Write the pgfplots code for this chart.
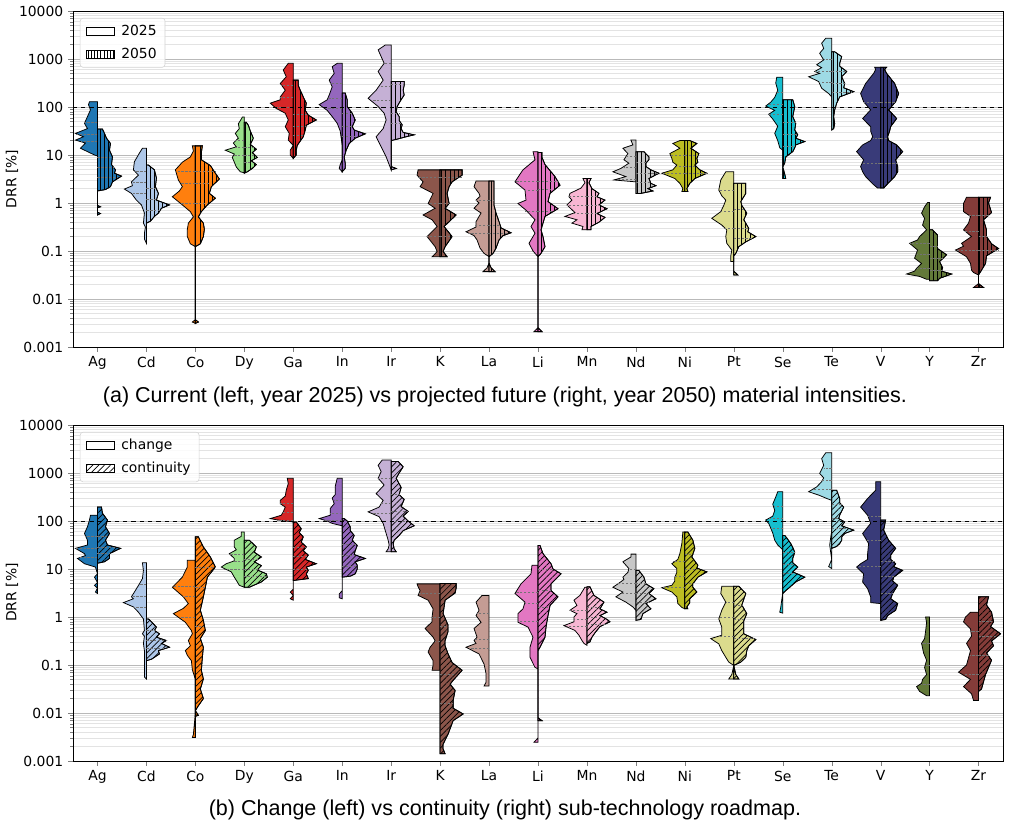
\documentclass[border=0pt]{standalone}
\usepackage{fontspec}
\setmainfont{DejaVu Sans}
\newfontfamily\capfont{Liberation Sans}
\usepackage{pgfplots}
\pgfplotsset{compat=1.18}
\usetikzlibrary{patterns.meta}
\definecolor{cAg}{HTML}{1F77B4}\definecolor{cCd}{HTML}{AEC7E8}\definecolor{cCo}{HTML}{FF7F0E}
\definecolor{cDy}{HTML}{98DF8A}\definecolor{cGa}{HTML}{D62728}\definecolor{cIn}{HTML}{9467BD}
\definecolor{cIr}{HTML}{C5B0D5}\definecolor{cK}{HTML}{8C564B}\definecolor{cLa}{HTML}{C49C94}
\definecolor{cLi}{HTML}{E377C2}\definecolor{cMn}{HTML}{F7B6D2}\definecolor{cNd}{HTML}{C7C7C7}
\definecolor{cNi}{HTML}{BCBD22}\definecolor{cPt}{HTML}{DBDB8D}\definecolor{cSe}{HTML}{17BECF}
\definecolor{cTe}{HTML}{9EDAE5}\definecolor{cV}{HTML}{393B79}\definecolor{cY}{HTML}{637939}
\definecolor{cZr}{HTML}{843C39}
\tikzset{hatchV/.style={postaction={pattern={Lines[angle=90,distance=3pt,line width=0.5pt]}}},
         hatchD/.style={postaction={pattern={Lines[angle=45,distance=3pt,line width=0.5pt]}}},
         qstyle/.style={draw=black!55, line width=0.5pt, dash pattern=on 1.6pt off 1.2pt}}
% #1 category position, #2 side (-1 left / 1 right), #3 colour, #4 style, #5 rows "log10(DRR) halfwidth[px]"
\newcommand{\hv}[5]{\addplot[draw=black, line width=0.55pt, fill=#3, forget plot, #4]
  table[row sep=\\, x expr={#1+#2*\thisrow{w}/48.9}, y expr={10^(\thisrow{l})}] {l w\\ #5\\} -- cycle;}
% quartile lines: position, side, then three (log10 level, halfwidth px) pairs
\newcommand{\ql}[8]{\addplot[qstyle, forget plot, unbounded coords=jump]
  table[row sep=\\, x expr={#1+#2*\thisrow{w}/48.9}, y expr={10^(\thisrow{l})}]
  {l w\\ #3 0\\ #3 #4\\ nan nan\\ #5 0\\ #5 #6\\ nan nan\\ #7 0\\ #7 #8\\};}
\pgfplotsset{every axis/.append style={
  scale only axis, width=669.6pt, height=241.9pt,
  xmin=-0.5, xmax=18.5, ymin=0.001, ymax=10000,
  xtick={0,...,18}, xticklabels={Ag,Cd,Co,Dy,Ga,In,Ir,K,La,Li,Mn,Nd,Ni,Pt,Se,Te,V,Y,Zr},
  ytick={0.001,0.01,0.1,1,10,100,1000,10000},
  yticklabels={0.001,0.01,0.1,1,10,100,1000,10000},
  minor ytick={0.002,0.003,0.004,0.005,0.006,0.007,0.008,0.009,
    0.02,0.03,0.04,0.05,0.06,0.07,0.08,0.09,0.2,0.3,0.4,0.5,0.6,0.7,0.8,0.9,
    2,3,4,5,6,7,8,9,20,30,40,50,60,70,80,90,200,300,400,500,600,700,800,900,
    2000,3000,4000,5000,6000,7000,8000,9000},
  ymajorgrids, yminorgrids,
  major grid style={gray!55, line width=0.6pt},
  minor grid style={gray!22, line width=0.6pt},
  tick align=outside, xtick pos=bottom, ytick pos=left,
  major tick length=3.5pt, minor tick length=2pt,
  axis line style={line width=0.6pt},
  tick label style={font=\fontsize{10}{12}\selectfont},
  legend style={at={(0,1)}, xshift=5pt, yshift=-5pt, anchor=north west,
    draw=gray!35, rounded corners=2pt, fill=white, fill opacity=0.85, text opacity=1,
    font=\fontsize{10}{12}\selectfont, row sep=3.5pt, inner xsep=4pt, inner ysep=3pt,
    /tikz/every odd column/.append style={column sep=3pt}},
  legend cell align=left,
}}
\begin{document}
\begin{tikzpicture}
\path[use as bounding box] (-52.56pt,7.92pt) rectangle (674.64pt,-588.96pt);
%================ TOP PANEL =================
\begin{axis}[ymode=log, at={(0,0)}, anchor=north west]
\addlegendimage{legend image code/.code={\draw[black, line width=0.6pt, fill=white, sharp corners] (0pt,-2.9pt) rectangle (20pt,2.9pt);}}
\addlegendentry{2025}
\addlegendimage{legend image code/.code={\draw[black, line width=0.6pt, sharp corners, pattern={Lines[angle=90,distance=2.2pt,line width=0.5pt]}] (0pt,-2.9pt) rectangle (20pt,2.9pt);}}
\addlegendentry{2050}
% Ag
\hv{0}{-1}{cAg}{}{0.98 0\\1.0 3\\1.14 17\\1.25 12\\1.31 22\\1.38 14\\1.45 22\\1.55 10\\1.66 13\\1.80 10\\1.94 7\\2.05 9\\2.11 8\\2.11 0}
\hv{0}{1}{cAg}{hatchV}{-0.25 0\\-0.22 3\\-0.19 0\\-0.1 0\\-0.08 3\\-0.05 0\\0.25 0\\0.28 8\\0.34 13\\0.44 15\\0.56 24\\0.62 17\\0.69 18\\0.80 14\\0.96 15\\1.1 12\\1.24 13\\1.35 9\\1.45 7\\1.54 5\\1.54 0}
% Cd
\hv{1}{-1}{cCd}{}{-0.84 0\\-0.75 2\\-0.63 2\\-0.5 1\\-0.42 3\\-0.21 2\\-0.04 5\\0.06 10\\0.2 15\\0.29 22\\0.36 14\\0.44 15\\0.58 8\\0.69 13\\0.86 12\\1.04 7\\1.14 4\\1.14 0}
\hv{1}{1}{cCd}{hatchV}{-0.42 0\\-0.38 4\\-0.28 8\\-0.21 12\\-0.11 15\\-0.04 23\\0.06 10\\0.2 12\\0.34 9\\0.52 10\\0.69 8\\0.79 2\\0.79 0}
% Co
\hv{2}{-1}{cCo}{}{-2.51 0\\-2.48 3\\-2.43 0\\-0.91 0\\-0.85 5\\-0.7 8\\-0.55 8\\-0.42 7\\-0.29 2\\-0.18 5\\-0.04 13\\0.13 23\\0.25 16\\0.34 13\\0.48 17\\0.69 20\\0.85 13\\0.96 5\\1.08 2\\1.19 3\\1.19 0}
\hv{2}{1}{cCo}{hatchV}{-2.51 0\\-2.48 3\\-2.43 0\\-0.91 0\\-0.85 5\\-0.7 8\\-0.55 9\\-0.42 8\\-0.29 3\\-0.18 6\\-0.04 12\\0.10 20\\0.2 14\\0.34 16\\0.5 24\\0.62 20\\0.78 15\\0.9 6\\1.05 6\\1.19 7\\1.19 0}
% Dy
\hv{3}{-1}{cDy}{}{0.63 0\\0.65 4\\0.75 8\\0.85 10\\0.95 12\\1.02 10\\1.1 19\\1.17 8\\1.25 11\\1.35 6\\1.45 9\\1.55 5\\1.65 6\\1.75 3\\1.79 2\\1.79 0}
\hv{3}{1}{cDy}{hatchV}{0.62 0\\0.65 3\\0.72 8\\0.80 12\\0.88 7\\0.95 13\\1.05 8\\1.12 12\\1.22 6\\1.35 9\\1.5 6\\1.62 4\\1.68 2\\1.68 0}
% Ga
\hv{4}{-1}{cGa}{}{0.93 0\\1.0 3\\1.1 3\\1.2 0\\1.31 5\\1.45 4\\1.59 8\\1.73 5\\1.87 8\\1.97 17\\2.08 23\\2.15 13\\2.21 13\\2.35 8\\2.49 13\\2.63 7\\2.77 10\\2.91 5\\2.91 0}
\hv{4}{1}{cGa}{hatchV}{0.93 0\\1.0 3\\1.1 3\\1.2 4\\1.38 10\\1.52 12\\1.62 13\\1.73 23\\1.83 15\\1.93 12\\2.08 13\\2.21 10\\2.35 7\\2.45 5\\2.56 5\\2.56 0}
% In
\hv{5}{-1}{cIn}{}{0.65 0\\0.72 3\\0.8 2\\0.9 0\\1.2 0\\1.5 2\\1.66 5\\1.8 10\\1.93 15\\2.05 23\\2.15 15\\2.25 13\\2.42 10\\2.56 13\\2.7 8\\2.84 10\\2.91 5\\2.91 0}
\hv{5}{1}{cIn}{hatchV}{0.65 0\\0.72 3\\0.83 3\\0.96 2\\1.1 4\\1.24 7\\1.35 13\\1.44 23\\1.52 12\\1.59 10\\1.73 13\\1.87 10\\2.01 5\\2.15 5\\2.29 3\\2.29 0}
% Ir
\hv{6}{-1}{cIr}{}{0.69 0\\0.8 2\\0.96 5\\1.17 10\\1.38 15\\1.55 8\\1.73 5\\1.87 7\\2.01 13\\2.18 23\\2.35 15\\2.56 8\\2.74 13\\2.91 7\\3.05 10\\3.19 13\\3.29 6\\3.29 0}
\hv{6}{1}{cIr}{hatchV}{0.69 0\\0.72 5\\0.76 0\\1.30 0\\1.33 6\\1.38 15\\1.42 23\\1.47 12\\1.55 10\\1.63 11\\1.72 8\\1.80 8\\1.9 5\\2.01 6\\2.12 9\\2.25 13\\2.35 12\\2.45 13\\2.53 13\\2.53 0}
% K
\hv{7}{-1}{cK}{}{-1.12 0\\-1.12 8\\-1.06 5\\-1.01 3\\-0.91 5\\-0.70 13\\-0.49 3\\-0.35 8\\-0.25 17\\-0.11 5\\-0.01 12\\0.2 7\\0.34 20\\0.44 17\\0.58 23\\0.69 22\\0.69 0}
\hv{7}{1}{cK}{hatchV}{-1.12 0\\-1.12 7\\-1.01 3\\-0.91 5\\-0.70 12\\-0.49 4\\-0.25 16\\-0.11 5\\-0.01 9\\0.2 7\\0.34 9\\0.44 12\\0.58 22\\0.69 22\\0.69 0}
% La
\hv{8}{-1}{cLa}{}{-1.43 0\\-1.43 6\\-1.35 2\\-1.25 0\\-1.12 0\\-1.05 5\\-0.94 9\\-0.77 12\\-0.68 15\\-0.60 23\\-0.50 13\\-0.39 13\\-0.28 10\\-0.21 8\\-0.11 15\\0.0 10\\0.06 13\\0.14 9\\0.20 10\\0.34 15\\0.46 13\\0.46 0}
\hv{8}{1}{cLa}{hatchV}{-1.43 0\\-1.43 6\\-1.35 2\\-1.25 0\\-1.12 0\\-1.05 4\\-0.94 7\\-0.77 10\\-0.68 14\\-0.62 22\\-0.52 12\\-0.39 10\\-0.21 7\\-0.05 5\\0.1 5\\0.3 5\\0.46 5\\0.46 0}
% Li
\hv{9}{-1}{cLi}{}{-2.68 0\\-2.68 4\\-2.6 0\\-1.12 0\\-1.0 5\\-0.84 9\\-0.63 3\\-0.49 7\\-0.35 3\\-0.15 12\\-0.01 20\\0.06 12\\0.27 13\\0.44 23\\0.6 18\\0.69 15\\0.9 3\\1.07 5\\1.07 0}
\hv{9}{1}{cLi}{hatchV}{-2.68 0\\-2.68 4\\-2.6 0\\-1.12 0\\-1.05 3\\-0.91 7\\-0.7 5\\-0.56 3\\-0.28 7\\-0.12 20\\0.03 10\\0.2 12\\0.37 22\\0.55 17\\0.8 7\\0.95 4\\1.05 4\\1.05 0}
% Mn
\hv{10}{-1}{cMn}{}{-0.56 0\\-0.56 5\\-0.49 4\\-0.42 15\\-0.35 10\\-0.28 22\\-0.2 12\\-0.12 16\\-0.04 20\\0.06 15\\0.13 18\\0.2 17\\0.31 6\\0.42 2\\0.51 4\\0.51 0}
\hv{10}{1}{cMn}{hatchV}{-0.56 0\\-0.56 4\\-0.49 4\\-0.40 12\\-0.30 18\\-0.22 10\\-0.12 20\\-0.04 12\\0.06 18\\0.13 10\\0.2 12\\0.3 5\\0.42 2\\0.51 4\\0.51 0}
% Nd
\hv{11}{-1}{cNd}{}{0.44 0\\0.48 22\\0.55 10\\0.65 23\\0.72 15\\0.83 7\\0.9 12\\1.03 8\\1.14 13\\1.21 3\\1.31 5\\1.31 0}
\hv{11}{1}{cNd}{hatchV}{0.20 0\\0.20 5\\0.25 17\\0.30 12\\0.36 20\\0.41 15\\0.51 13\\0.62 23\\0.69 15\\0.76 10\\0.83 10\\0.9 13\\0.96 13\\1.07 8\\1.07 0}
% Ni
\hv{12}{-1}{cNi}{}{0.24 0\\0.24 3\\0.3 2\\0.41 5\\0.51 10\\0.62 23\\0.69 12\\0.79 8\\0.85 12\\0.93 13\\1.03 15\\1.14 5\\1.24 12\\1.30 5\\1.30 0}
\hv{12}{1}{cNi}{hatchV}{0.24 0\\0.24 3\\0.3 2\\0.41 5\\0.51 10\\0.62 22\\0.69 15\\0.79 10\\0.85 13\\0.93 12\\1.03 14\\1.14 6\\1.24 12\\1.30 5\\1.30 0}
% Pt
\hv{13}{-1}{cPt}{}{-1.22 0\\-1.22 3\\-1.1 3\\-0.98 2\\-0.84 7\\-0.70 8\\-0.56 7\\-0.46 12\\-0.32 22\\-0.18 13\\-0.05 10\\0.06 8\\0.15 12\\0.27 15\\0.48 13\\0.65 8\\0.65 0}
\hv{13}{1}{cPt}{hatchV}{-1.50 0\\-1.50 4\\-1.42 0\\-1.1 0\\-1.05 2\\-0.91 5\\-0.81 12\\-0.70 22\\-0.6 14\\-0.53 15\\-0.35 10\\-0.21 13\\-0.05 8\\0.03 7\\0.20 12\\0.41 12\\0.41 0}
% Se
\hv{14}{-1}{cSe}{}{1.1 0\\1.15 3\\1.3 5\\1.45 8\\1.6 5\\1.75 10\\1.85 14\\1.93 8\\2.02 17\\2.1 12\\2.2 8\\2.35 5\\2.5 7\\2.62 6\\2.62 0}
\hv{14}{1}{cSe}{hatchV}{0.51 0\\0.51 3\\0.6 2\\0.75 0\\0.83 2\\0.96 3\\1.07 10\\1.15 12\\1.21 13\\1.28 22\\1.35 13\\1.42 15\\1.52 12\\1.66 13\\1.80 10\\2.01 12\\2.15 10\\2.15 0}
% Te
\hv{15}{-1}{cTe}{}{2.21 0\\2.28 3\\2.39 10\\2.53 13\\2.63 23\\2.7 12\\2.74 17\\2.82 10\\2.88 15\\2.98 8\\3.12 12\\3.22 8\\3.33 10\\3.43 6\\3.43 0}
\hv{15}{1}{cTe}{hatchV}{1.52 0\\1.55 2\\1.65 3\\1.80 2\\1.94 3\\2.08 5\\2.21 8\\2.32 22\\2.4 12\\2.49 13\\2.63 10\\2.74 15\\2.85 8\\2.91 8\\3.05 10\\3.15 3\\3.15 0}
% V
\hv{16}{-1}{cV}{}{0.31 0\\0.31 3\\0.4 8\\0.55 15\\0.65 18\\0.76 20\\0.9 17\\1.07 24\\1.21 18\\1.3 10\\1.38 8\\1.5 10\\1.59 10\\1.76 18\\1.94 10\\2.11 17\\2.28 20\\2.49 15\\2.70 7\\2.78 5\\2.83 6\\2.83 0}
\hv{16}{1}{cV}{hatchV}{0.31 0\\0.31 3\\0.4 7\\0.55 14\\0.65 17\\0.76 17\\0.9 15\\1.07 22\\1.21 16\\1.3 8\\1.38 7\\1.5 9\\1.59 10\\1.76 16\\1.94 8\\2.11 15\\2.28 18\\2.49 14\\2.70 6\\2.78 4\\2.83 6\\2.83 0}
% Y
\hv{17}{-1}{cY}{}{-1.59 0\\-1.59 3\\-1.53 10\\-1.48 23\\-1.42 15\\-1.36 13\\-1.26 8\\-1.15 15\\-0.98 12\\-0.84 20\\-0.77 12\\-0.70 10\\-0.56 3\\-0.46 7\\-0.32 5\\-0.21 8\\-0.08 5\\0.01 2\\0.01 0}
\hv{17}{1}{cY}{hatchV}{-1.62 0\\-1.62 8\\-1.57 10\\-1.48 22\\-1.42 12\\-1.35 13\\-1.22 10\\-1.08 17\\-0.95 8\\-0.80 8\\-0.67 8\\-0.56 3\\-0.56 0}
% Zr
\hv{18}{-1}{cZr}{}{-1.76 0\\-1.76 5\\-1.68 0\\-1.50 0\\-1.45 5\\-1.40 7\\-1.26 8\\-1.12 12\\-0.98 23\\-0.90 15\\-0.84 17\\-0.70 7\\-0.56 15\\-0.42 10\\-0.28 8\\-0.18 15\\-0.01 15\\0.12 12\\0.12 0}
\hv{18}{1}{cZr}{hatchV}{-1.76 0\\-1.76 5\\-1.68 0\\-1.50 0\\-1.40 3\\-1.26 7\\-1.10 8\\-0.95 20\\-0.85 13\\-0.70 8\\-0.56 8\\-0.35 5\\-0.20 13\\0.0 10\\0.12 12\\0.12 0}
% quartile lines (top)
\ql{0}{-1}{1.68}{13}{1.43}{21}{1.28}{16}\ql{0}{1}{0.96}{15}{0.75}{16}{0.53}{20}
\ql{1}{-1}{0.66}{12}{0.44}{15}{0.21}{14}\ql{1}{1}{0.30}{10}{0.07}{10}{-0.15}{14}
\ql{2}{-1}{0.66}{20}{0.40}{14}{0.0}{14}\ql{2}{1}{0.66}{21}{0.40}{15}{0.0}{12}
\ql{3}{-1}{1.30}{9}{1.15}{9}{1.0}{10}\ql{3}{1}{1.15}{11}{1.0}{10}{0.85}{9}
\ql{4}{-1}{2.45}{12}{2.2}{13}{2.0}{17}\ql{4}{1}{1.84}{15}{1.59}{13}{1.40}{10}
\ql{5}{-1}{2.5}{12}{2.18}{15}{1.97}{15}\ql{5}{1}{1.87}{10}{1.59}{10}{1.38}{13}
\ql{6}{-1}{2.91}{7}{2.42}{10}{2.14}{18}\ql{6}{1}{2.48}{13}{1.87}{8}{1.65}{11}
\ql{7}{-1}{0.53}{22}{0.0}{11}{-0.7}{13}\ql{7}{1}{0.53}{22}{0.0}{9}{-0.7}{12}
\ql{8}{-1}{0.06}{13}{-0.46}{14}{-0.64}{20}\ql{8}{1}{0.06}{5}{-0.46}{11}{-0.64}{18}
\ql{9}{-1}{0.46}{23}{0.27}{13}{-0.18}{13}\ql{9}{1}{0.46}{20}{0.28}{13}{-0.18}{16}
\ql{10}{-1}{0.13}{18}{-0.04}{20}{-0.21}{13}\ql{10}{1}{0.13}{10}{-0.04}{12}{-0.21}{11}
\ql{11}{-1}{0.97}{10}{0.75}{12}{0.5}{18}\ql{11}{1}{0.85}{10}{0.62}{23}{0.42}{15}
\ql{12}{-1}{1.0}{14}{0.77}{9}{0.62}{23}\ql{12}{1}{1.0}{13}{0.77}{10}{0.62}{22}
\ql{13}{-1}{0.27}{15}{-0.18}{13}{-0.53}{10}\ql{13}{1}{-0.14}{11}{-0.53}{15}{-0.73}{20}
\ql{14}{-1}{2.3}{6}{2.05}{15}{1.85}{14}\ql{14}{1}{1.69}{13}{1.44}{15}{1.18}{12}
\ql{15}{-1}{2.99}{8}{2.74}{17}{2.51}{13}\ql{15}{1}{2.74}{15}{2.5}{13}{2.3}{20}
\ql{16}{-1}{2.1}{17}{1.35}{8}{0.83}{18}\ql{16}{1}{2.1}{15}{1.35}{7}{0.83}{16}
\ql{17}{-1}{-0.84}{20}{-1.08}{13}{-1.36}{13}\ql{17}{1}{-0.91}{8}{-1.15}{13}{-1.4}{12}
\ql{18}{-1}{-0.25}{10}{-0.6}{14}{-0.98}{23}\ql{18}{1}{-0.25}{10}{-0.7}{8}{-0.98}{20}
\addplot[black, dashed, line width=0.6pt, forget plot] coordinates {(-0.5,100) (18.5,100)};
\end{axis}
%================ BOTTOM PANEL =================
\begin{axis}[ymode=log, at={(0,-298.08pt)}, anchor=north west]
\addlegendimage{legend image code/.code={\draw[black, line width=0.6pt, fill=white, sharp corners] (0pt,-2.9pt) rectangle (20pt,2.9pt);}}
\addlegendentry{change}
\addlegendimage{legend image code/.code={\draw[black, line width=0.6pt, sharp corners, pattern={Lines[angle=45,distance=3pt,line width=0.5pt]}] (0pt,-2.9pt) rectangle (20pt,2.9pt);}}
\addlegendentry{continuity}
% Ag
\hv{0}{-1}{cAg}{}{0.49 0\\0.52 2\\0.6 0\\0.66 3\\0.72 0\\0.83 3\\0.9 0\\1.04 2\\1.11 13\\1.22 20\\1.28 12\\1.32 13\\1.43 22\\1.5 10\\1.6 10\\1.74 13\\1.88 10\\2.02 8\\2.12 7\\2.12 0}
\hv{0}{1}{cAg}{hatchD}{1.12 0\\1.15 7\\1.22 12\\1.32 12\\1.43 23\\1.5 10\\1.6 8\\1.74 12\\1.88 8\\2.02 10\\2.16 5\\2.29 4\\2.29 0}
% Cd
\hv{1}{-1}{cCd}{}{-1.29 0\\-1.25 2\\-1.0 2\\-0.7 2\\-0.55 3\\-0.4 2\\-0.35 4\\-0.28 2\\-0.04 3\\0.1 8\\0.21 13\\0.30 23\\0.38 13\\0.42 15\\0.52 12\\0.69 7\\0.8 4\\0.97 3\\1.13 4\\1.13 0}
\hv{1}{1}{cCd}{hatchD}{-0.91 0\\-0.88 5\\-0.84 8\\-0.77 13\\-0.70 12\\-0.63 23\\-0.55 15\\-0.49 20\\-0.42 10\\-0.35 13\\-0.28 8\\-0.21 10\\-0.1 5\\-0.04 2\\-0.04 0}
% Co
\hv{2}{-1}{cCo}{}{-2.51 0\\-2.51 3\\-2.45 2\\-2.0 0\\-1.3 0\\-1.1 3\\-0.91 4\\-0.8 8\\-0.70 10\\-0.6 5\\-0.49 7\\-0.35 3\\-0.28 4\\-0.11 10\\0.07 22\\0.18 12\\0.28 7\\0.42 12\\0.62 23\\0.83 13\\1.04 8\\1.18 8\\1.18 0}
\hv{2}{1}{cCo}{hatchD}{-2.07 0\\-2.05 3\\-1.95 0\\-1.85 3\\-1.7 8\\-1.5 5\\-1.29 8\\-1.11 6\\-0.84 7\\-0.63 8\\-0.45 5\\-0.28 10\\-0.07 8\\0.14 5\\0.42 8\\0.62 10\\0.83 12\\1.04 20\\1.25 15\\1.46 8\\1.67 3\\1.67 0}
% Dy
\hv{3}{-1}{cDy}{}{0.62 0\\0.66 5\\0.73 7\\0.83 10\\0.94 13\\1.04 23\\1.11 18\\1.17 10\\1.22 10\\1.32 15\\1.40 8\\1.46 10\\1.60 10\\1.68 3\\1.77 3\\1.77 0}
\hv{3}{1}{cDy}{hatchD}{0.62 0\\0.62 5\\0.73 17\\0.83 23\\0.90 22\\0.98 13\\1.07 17\\1.15 10\\1.25 17\\1.35 10\\1.46 12\\1.60 5\\1.60 0}
% Ga
\hv{4}{-1}{cGa}{}{0.35 0\\0.38 3\\0.45 0\\0.52 3\\0.58 0\\1.98 0\\2.02 15\\2.05 23\\2.12 12\\2.19 10\\2.29 8\\2.36 13\\2.43 13\\2.52 8\\2.64 7\\2.78 5\\2.89 6\\2.89 0}
\hv{4}{1}{cGa}{hatchD}{0.76 0\\0.80 15\\0.90 13\\0.97 15\\1.04 13\\1.11 23\\1.2 12\\1.29 15\\1.38 10\\1.46 13\\1.56 8\\1.67 10\\1.76 6\\1.84 8\\1.98 3\\1.98 0}
% In
\hv{5}{-1}{cIn}{}{0.38 0\\0.40 3\\0.48 3\\0.55 0\\1.90 0\\1.95 10\\2.00 15\\2.05 23\\2.12 12\\2.19 12\\2.26 12\\2.36 8\\2.48 10\\2.55 7\\2.72 7\\2.89 5\\2.89 0}
\hv{5}{1}{cIn}{hatchD}{0.83 0\\0.85 8\\0.90 13\\1.0 15\\1.08 15\\1.15 13\\1.22 23\\1.3 12\\1.38 13\\1.49 15\\1.6 10\\1.70 12\\1.8 8\\1.88 8\\2.0 5\\2.05 2\\2.05 0}
% Ir
\hv{6}{-1}{cIr}{}{1.36 0\\1.36 5\\1.42 3\\1.50 2\\1.60 3\\1.74 5\\1.95 8\\2.09 12\\2.19 23\\2.29 12\\2.43 8\\2.57 15\\2.75 7\\2.89 13\\3.03 10\\3.16 13\\3.27 9\\3.27 0}
\hv{6}{1}{cIr}{hatchD}{1.36 0\\1.36 5\\1.42 3\\1.52 2\\1.60 3\\1.70 8\\1.8 12\\1.90 23\\2.0 17\\2.1 12\\2.2 17\\2.3 10\\2.45 13\\2.55 8\\2.70 10\\2.89 5\\3.0 8\\3.13 12\\3.24 7\\3.24 0}
% K
\hv{7}{-1}{cK}{}{-1.11 0\\-1.11 8\\-1.0 7\\-0.91 7\\-0.73 12\\-0.63 10\\-0.50 5\\-0.42 7\\-0.24 15\\-0.1 8\\0.0 8\\0.17 7\\0.35 12\\0.45 22\\0.55 20\\0.63 22\\0.69 23\\0.69 0}
\hv{7}{1}{cK}{hatchD}{-2.85 0\\-2.85 5\\-2.75 3\\-2.65 3\\-2.44 8\\-2.16 13\\-2.02 23\\-1.90 13\\-1.74 13\\-1.53 15\\-1.40 10\\-1.32 13\\-1.11 22\\-0.95 12\\-0.77 8\\-0.6 5\\-0.49 5\\-0.30 8\\-0.17 8\\0.07 3\\0.35 5\\0.5 15\\0.6 16\\0.70 16\\0.70 0}
% La
\hv{8}{-1}{cLa}{}{-1.44 0\\-1.44 5\\-1.36 3\\-1.18 3\\-0.98 5\\-0.77 10\\-0.63 23\\-0.55 13\\-0.49 15\\-0.42 12\\-0.24 15\\-0.11 8\\0.03 13\\0.14 10\\0.31 13\\0.45 7\\0.45 0}
% Li
\hv{9}{-1}{cLi}{}{-2.61 0\\-2.61 4\\-2.52 0\\-1.08 0\\-1.05 3\\-0.84 8\\-0.63 8\\-0.42 5\\-0.21 10\\-0.11 20\\0.07 20\\0.17 15\\0.31 13\\0.49 23\\0.69 17\\0.90 7\\1.08 6\\1.08 0}
\hv{9}{1}{cLi}{hatchD}{-2.16 0\\-2.16 4\\-2.1 0\\-0.7 0\\-0.63 2\\-0.42 7\\-0.21 8\\0.03 10\\0.24 12\\0.42 20\\0.55 13\\0.69 13\\0.90 23\\1.0 15\\1.11 13\\1.32 5\\1.49 2\\1.49 0}
% Mn
\hv{10}{-1}{cMn}{}{-0.59 0\\-0.55 3\\-0.49 5\\-0.38 8\\-0.28 12\\-0.18 23\\-0.1 13\\0.0 13\\0.07 10\\0.14 17\\0.24 10\\0.35 13\\0.45 7\\0.52 5\\0.62 2\\0.62 0}
\hv{10}{1}{cMn}{hatchD}{-0.55 0\\-0.52 3\\-0.42 5\\-0.33 8\\-0.2 13\\-0.1 23\\-0.05 20\\0.03 13\\0.1 20\\0.17 13\\0.31 17\\0.45 7\\0.63 3\\0.63 0}
% Nd
\hv{11}{-1}{cNd}{}{0.14 0\\0.21 3\\0.31 10\\0.42 20\\0.52 13\\0.62 23\\0.69 18\\0.78 12\\0.83 13\\0.93 8\\1.01 7\\1.15 13\\1.25 5\\1.31 5\\1.31 0}
\hv{11}{1}{cNd}{hatchD}{-0.07 0\\-0.05 5\\0.07 7\\0.17 15\\0.28 10\\0.38 20\\0.49 13\\0.59 18\\0.69 10\\0.83 8\\0.97 3\\0.97 0}
% Ni
\hv{12}{-1}{cNi}{}{0.17 0\\0.2 3\\0.28 7\\0.42 8\\0.52 13\\0.61 23\\0.66 13\\0.75 10\\0.83 10\\0.93 8\\1.01 8\\1.11 13\\1.2 7\\1.32 5\\1.53 3\\1.77 2\\1.77 0}
\hv{12}{1}{cNi}{hatchD}{0.17 0\\0.17 3\\0.21 2\\0.30 5\\0.38 5\\0.52 12\\0.62 8\\0.69 8\\0.83 13\\0.94 22\\1.02 12\\1.08 13\\1.25 7\\1.43 10\\1.60 8\\1.77 3\\1.77 0}
% Pt
\hv{13}{-1}{cPt}{}{-1.29 0\\-1.29 5\\-1.2 2\\-1.01 0\\-0.94 5\\-0.84 8\\-0.70 12\\-0.56 15\\-0.45 23\\-0.38 12\\-0.21 12\\-0.04 15\\0.14 12\\0.31 8\\0.49 13\\0.64 12\\0.64 0}
\hv{13}{1}{cPt}{hatchD}{-1.29 0\\-1.29 5\\-1.2 2\\-1.01 0\\-0.94 7\\-0.84 12\\-0.70 13\\-0.6 15\\-0.47 22\\-0.35 10\\-0.21 10\\-0.08 10\\0.07 13\\0.25 8\\0.49 12\\0.64 5\\0.64 0}
% Se
\hv{14}{-1}{cSe}{}{0.08 0\\0.1 3\\0.2 2\\0.5 0\\1.4 0\\1.5 5\\1.6 8\\1.75 10\\1.85 12\\1.95 14\\2.02 17\\2.1 10\\2.22 8\\2.35 10\\2.5 7\\2.61 5\\2.61 0}
\hv{14}{1}{cSe}{hatchD}{0.49 0\\0.55 3\\0.62 7\\0.73 13\\0.83 22\\0.94 10\\1.04 15\\1.13 10\\1.22 10\\1.35 12\\1.45 10\\1.53 8\\1.62 5\\1.70 2\\1.70 0}
% Te
\hv{15}{-1}{cTe}{}{1.01 0\\1.05 3\\1.2 0\\1.5 2\\1.8 0\\2.43 0\\2.47 5\\2.54 13\\2.61 23\\2.71 15\\2.82 10\\2.9 8\\2.99 12\\3.16 8\\3.30 10\\3.42 6\\3.42 0}
\hv{15}{1}{cTe}{hatchD}{1.43 0\\1.47 5\\1.53 8\\1.60 10\\1.67 10\\1.74 13\\1.81 22\\1.9 10\\1.98 13\\2.05 7\\2.12 8\\2.29 12\\2.38 8\\2.47 8\\2.64 5\\2.64 0}
% V
\hv{16}{-1}{cV}{}{0.28 0\\0.3 10\\0.42 10\\0.59 13\\0.73 18\\0.90 17\\1.04 24\\1.11 20\\1.2 13\\1.32 13\\1.53 12\\1.74 18\\1.95 10\\2.12 13\\2.29 20\\2.47 13\\2.64 5\\2.82 5\\2.82 0}
\hv{16}{1}{cV}{hatchD}{-0.07 0\\-0.05 5\\0.03 7\\0.14 15\\0.28 17\\0.38 10\\0.49 12\\0.66 17\\0.75 12\\0.83 13\\0.97 22\\1.05 13\\1.11 15\\1.2 10\\1.29 10\\1.43 15\\1.60 8\\1.81 3\\2.02 5\\2.02 0}
% Y
\hv{17}{-1}{cY}{}{-1.64 0\\-1.64 3\\-1.55 10\\-1.45 13\\-1.38 8\\-1.3 7\\-1.2 3\\-1.05 5\\-0.9 3\\-0.75 6\\-0.55 8\\-0.45 5\\-0.3 4\\-0.12 3\\0.0 4\\0.0 0}
% Zr
\hv{18}{-1}{cZr}{}{-1.74 0\\-1.74 5\\-1.6 7\\-1.45 15\\-1.3 8\\-1.15 20\\-1.0 12\\-0.85 10\\-0.7 8\\-0.55 12\\-0.4 7\\-0.25 8\\-0.1 15\\0.0 13\\0.1 8\\0.1 0}
\hv{18}{1}{cZr}{hatchD}{-1.55 0\\-1.5 3\\-1.35 5\\-1.2 7\\-1.05 10\\-0.9 13\\-0.75 8\\-0.6 15\\-0.5 13\\-0.35 22\\-0.2 12\\-0.1 15\\0.1 13\\0.25 8\\0.42 10\\0.42 0}
% quartile lines (bottom)
\ql{0}{-1}{1.67}{12}{1.43}{22}{1.25}{17}\ql{0}{1}{1.67}{10}{1.46}{18}{1.32}{12}
\ql{1}{-1}{0.69}{7}{0.42}{15}{0.21}{13}\ql{1}{1}{-0.28}{8}{-0.49}{20}{-0.66}{18}
\ql{2}{-1}{0.64}{22}{0.42}{12}{0.0}{15}\ql{2}{1}{1.04}{20}{0.62}{10}{-0.2}{9}
\ql{3}{-1}{1.3}{14}{1.15}{11}{1.0}{20}\ql{3}{1}{1.2}{14}{1.0}{15}{0.85}{22}
\ql{4}{-1}{2.36}{13}{2.19}{10}{2.02}{16}\ql{4}{1}{1.46}{13}{1.26}{14}{1.0}{14}
\ql{5}{-1}{2.43}{8}{2.16}{12}{2.02}{17}\ql{5}{1}{1.52}{14}{1.29}{13}{1.05}{15}
\ql{6}{-1}{2.89}{13}{2.36}{10}{2.16}{18}\ql{6}{1}{2.55}{8}{2.2}{17}{2.0}{17}
\ql{7}{-1}{0.5}{21}{0.0}{8}{-0.5}{5}\ql{7}{1}{-0.2}{8}{-1.2}{15}{-1.8}{13}
\ql{8}{-1}{0.08}{12}{-0.46}{14}{-0.66}{20}
\ql{9}{-1}{0.52}{22}{0.28}{13}{-0.1}{20}\ql{9}{1}{1.0}{15}{0.55}{13}{0.2}{11}
\ql{10}{-1}{0.14}{17}{-0.05}{13}{-0.2}{20}\ql{10}{1}{0.2}{13}{0.0}{14}{-0.15}{18}
\ql{11}{-1}{1.0}{7}{0.7}{18}{0.5}{14}\ql{11}{1}{0.7}{10}{0.5}{13}{0.3}{12}
\ql{12}{-1}{1.15}{12}{0.85}{10}{0.62}{23}\ql{12}{1}{1.3}{8}{1.0}{13}{0.7}{8}
\ql{13}{-1}{0.3}{8}{0.0}{15}{-0.4}{15}\ql{13}{1}{0.25}{8}{-0.05}{10}{-0.45}{20}
\ql{14}{-1}{2.3}{9}{2.05}{15}{1.85}{12}\ql{14}{1}{1.35}{12}{1.1}{11}{0.9}{12}
\ql{15}{-1}{3.1}{8}{2.85}{10}{2.65}{18}\ql{15}{1}{2.35}{10}{2.05}{7}{1.85}{15}
\ql{16}{-1}{2.1}{13}{1.6}{14}{1.05}{22}\ql{16}{1}{1.15}{14}{0.85}{13}{0.5}{12}
\ql{17}{-1}{-0.55}{8}{-1.0}{4}{-1.4}{9}
\ql{18}{-1}{-0.3}{8}{-0.8}{9}{-1.2}{14}\ql{18}{1}{-0.1}{15}{-0.4}{18}{-0.8}{10}
\addplot[black, dashed, line width=0.6pt, forget plot] coordinates {(-0.5,100) (18.5,100)};
\end{axis}
\node[rotate=90, font=\fontsize{10}{12}\selectfont] at (-43.9pt,-121pt) {DRR [\%]};
\node[rotate=90, font=\fontsize{10}{12}\selectfont] at (-43.9pt,-418.7pt) {DRR [\%]};
\node[font=\capfont\fontsize{15.5}{18}\selectfont] at (311pt,-277.9pt) {(a) Current (left, year 2025) vs projected future (right, year 2050) material intensities.};
\node[font=\capfont\fontsize{15.5}{18}\selectfont] at (311pt,-575.3pt) {(b) Change (left) vs continuity (right) sub-technology roadmap.};
\end{tikzpicture}
\end{document}
